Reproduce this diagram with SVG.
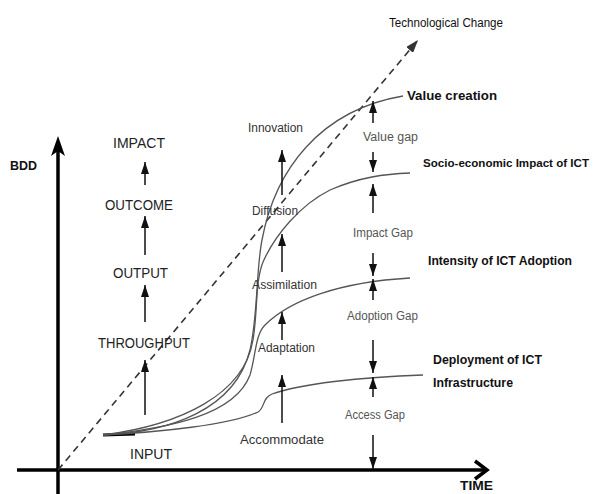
<svg xmlns="http://www.w3.org/2000/svg" width="598" height="494" viewBox="0 0 598 494">
<defs>
<marker id="ah" markerUnits="userSpaceOnUse" markerWidth="12" markerHeight="8" refX="12" refY="4" orient="auto">
<path d="M0,0 L12,4 L0,8 z" fill="#111"/>
</marker>
<marker id="ahd" markerUnits="userSpaceOnUse" markerWidth="13" markerHeight="9" refX="13" refY="4.5" orient="auto">
<path d="M0,0 L13,4.5 L0,9 z" fill="#333"/>
</marker>
</defs>
<style>
text{font-family:"Liberation Sans",Arial,sans-serif;}
.big{font-size:15px;fill:#222;}
.mid{font-size:12px;fill:#333;}
.gap{font-size:12px;fill:#555;}
.lab{font-size:13px;font-weight:bold;fill:#111;}
.arr{stroke:#111;stroke-width:1.5;fill:none;marker-end:url(#ah);}
.crv{stroke:#555;stroke-width:1.3;fill:none;}
.axis{stroke:#000;stroke-width:3.5;fill:none;}
</style>
<rect width="598" height="494" fill="#fff"/>

<g id="axes">
<line class="axis" x1="58" y1="494" x2="58" y2="142"/>
<path d="M58,136 L65,156 L58,151 L51,156 z" fill="#000"/>
<line class="axis" x1="17" y1="470" x2="485" y2="470"/>
<polyline points="475,461 487,470 475,479" stroke="#000" stroke-width="3.5" fill="none"/>
<text x="10" y="170" class="lab" textLength="27" lengthAdjust="spacingAndGlyphs">BDD</text>
<text x="460" y="490" class="lab" textLength="33" lengthAdjust="spacingAndGlyphs">TIME</text>
</g>

<g id="tech-change">
<line x1="58" y1="470" x2="418" y2="40" stroke="#333" stroke-width="1.6" stroke-dasharray="7,5" marker-end="url(#ahd)"/>
<text x="389" y="27" class="mid" style="fill:#111" textLength="114" lengthAdjust="spacingAndGlyphs">Technological Change</text>
</g>

<g id="curves">
<path d="M103,435 L135,434" stroke="#000" stroke-width="3" fill="none"/>
<path id="c-value" class="crv" d="M103,435 C170,432 235,410 250,350 C258,315 256,270 262,240 C275,170 320,110 403,96"/>
<path id="c-socio" class="crv" d="M103,435 C180,425 244,395 253,340 C258,310 255,282 263,262 C275,235 300,205 330,190 C360,177 385,174 410,173"/>
<path id="c-adopt" class="crv" d="M103,435 C170,428 235,415 250,375 C256,355 255,335 265,325 C290,300 340,282 410,278"/>
<path id="c-deploy" class="crv" d="M103,435 C160,432 230,425 258,412 C265,408 262,398 272,394 C300,384 360,377 423,375"/>
</g>

<g id="left-column">
<text x="113" y="148" class="big" textLength="52" lengthAdjust="spacingAndGlyphs">IMPACT</text>
<text x="105" y="210" class="big" textLength="68" lengthAdjust="spacingAndGlyphs">OUTCOME</text>
<text x="113" y="278" class="big" textLength="55" lengthAdjust="spacingAndGlyphs">OUTPUT</text>
<text x="98" y="348" class="big" textLength="92" lengthAdjust="spacingAndGlyphs">THROUGHPUT</text>
<text x="130" y="459" class="big" textLength="42" lengthAdjust="spacingAndGlyphs">INPUT</text>
<line class="arr" x1="145" y1="185" x2="145" y2="162"/>
<line class="arr" x1="145" y1="255" x2="145" y2="216"/>
<line class="arr" x1="145" y1="322" x2="145" y2="285"/>
<line class="arr" x1="145" y1="415" x2="145" y2="360"/>
</g>

<g id="middle-column">
<text x="248" y="132" class="mid" textLength="55" lengthAdjust="spacingAndGlyphs">Innovation</text>
<text x="252" y="215" class="mid" textLength="46" lengthAdjust="spacingAndGlyphs">Diffusion</text>
<text x="252" y="289" class="mid" textLength="65" lengthAdjust="spacingAndGlyphs">Assimilation</text>
<text x="258" y="352" class="mid" textLength="57" lengthAdjust="spacingAndGlyphs">Adaptation</text>
<text x="240" y="444" class="mid" textLength="84" lengthAdjust="spacingAndGlyphs">Accommodate</text>
<line class="arr" x1="282" y1="195" x2="282" y2="150"/>
<line class="arr" x1="282" y1="272" x2="282" y2="234"/>
<line class="arr" x1="282" y1="340" x2="282" y2="312"/>
<line class="arr" x1="282" y1="423" x2="282" y2="375"/>
</g>

<g id="gaps">
<text x="363" y="141" class="gap" textLength="55" lengthAdjust="spacingAndGlyphs">Value gap</text>
<text x="353" y="237" class="gap" textLength="60" lengthAdjust="spacingAndGlyphs">Impact Gap</text>
<text x="347" y="320" class="gap" textLength="71" lengthAdjust="spacingAndGlyphs">Adoption Gap</text>
<text x="345" y="419" class="gap" textLength="60" lengthAdjust="spacingAndGlyphs">Access Gap</text>
<line class="arr" x1="373" y1="123" x2="373" y2="101"/>
<line class="arr" x1="373" y1="152" x2="373" y2="172"/>
<line class="arr" x1="373" y1="213" x2="373" y2="184"/>
<line class="arr" x1="373" y1="253" x2="373" y2="276"/>
<line class="arr" x1="373" y1="300" x2="373" y2="279"/>
<line class="arr" x1="373" y1="340" x2="373" y2="373"/>
<line class="arr" x1="373" y1="397" x2="373" y2="377"/>
<line class="arr" x1="373" y1="435" x2="373" y2="469"/>
</g>

<g id="curve-labels">
<text x="407" y="100" class="lab" textLength="90" lengthAdjust="spacingAndGlyphs">Value creation</text>
<text x="423" y="167" class="lab" style="font-size:11px" textLength="166" lengthAdjust="spacingAndGlyphs">Socio-economic Impact of ICT</text>
<text x="428" y="265" class="lab" textLength="144" lengthAdjust="spacingAndGlyphs">Intensity of ICT Adoption</text>
<text x="433" y="364" class="lab" textLength="109" lengthAdjust="spacingAndGlyphs">Deployment of ICT</text>
<text x="433" y="387" class="lab" textLength="80" lengthAdjust="spacingAndGlyphs">Infrastructure</text>
</g>
</svg>
